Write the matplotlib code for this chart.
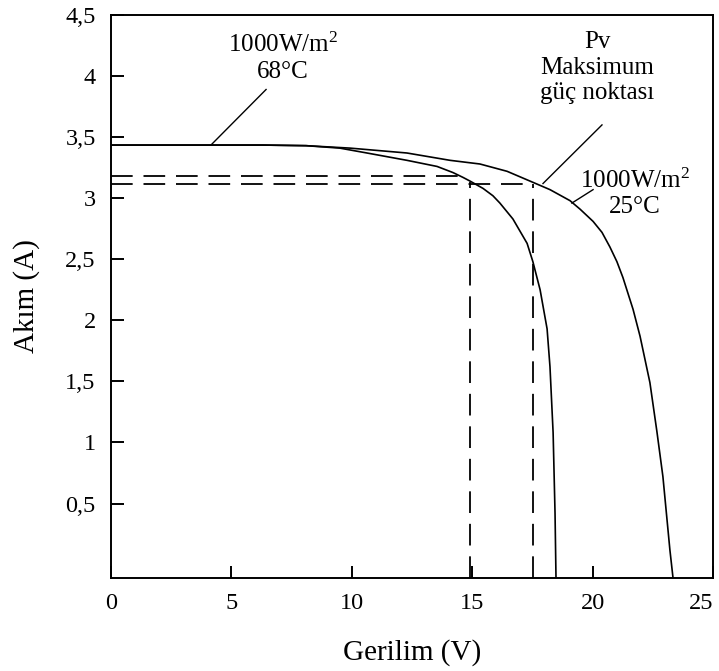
import matplotlib.pyplot as plt

plt.rcParams['font.family'] = ['Liberation Serif', 'DejaVu Serif']
plt.rcParams['mathtext.fontset'] = 'custom'
plt.rcParams['mathtext.rm'] = 'Liberation Serif'
plt.rcParams['mathtext.it'] = 'Liberation Serif:italic'

# I-V egrisi, 1000 W/m2, 25 C
v_25 = [0, 6.3, 8.1, 9.93, 12.29, 14.08, 15.32, 16.45, 17.52, 18.23, 19.06,
        19.48, 20.02, 20.39, 20.72, 21.01, 21.26, 21.68, 21.97, 22.38, 22.67,
        22.92, 23.21, 23.34]
i_25 = [3.435, 3.435, 3.43, 3.41, 3.37, 3.31, 3.28, 3.22, 3.13, 3.07, 2.98,
        2.91, 2.81, 2.72, 2.60, 2.48, 2.35, 2.09, 1.87, 1.49, 1.09,
        0.72, 0.12, -0.11]

# I-V egrisi, 1000 W/m2, 68 C
v_68 = [0, 6.3, 8.1, 9.5, 10.63, 12.29, 13.54, 14.20, 14.62, 14.91, 15.45,
        15.86, 16.15, 16.69, 17.28, 17.52, 17.82, 18.11, 18.23, 18.36, 18.44,
        18.48]
i_68 = [3.435, 3.435, 3.43, 3.41, 3.37, 3.31, 3.26, 3.21, 3.17, 3.14, 3.08,
        3.02, 2.96, 2.83, 2.63, 2.48, 2.25, 1.93, 1.62, 1.08, 0.42,
        -0.11]

# maksimum guc noktalari (kesikli cizgiler)
mpp_v = [14.91, 17.52]
mpp_i = [3.13, 3.12]
mpp_h_i = [3.18, 3.12]
mpp_h_v = [14.45, 17.52]

x_ticks = [0, 5, 10, 15, 20, 25]
y_ticks = [0.5, 1, 1.5, 2, 2.5, 3, 3.5, 4, 4.5]
y_labels = ['0,5', '1', '1,5', '2', '2,5', '3', '3,5', '4', '4,5']

fig = plt.figure(figsize=(7.19, 6.71), dpi=100)
ax = fig.add_axes([111 / 719, 1 - 578 / 671, 602 / 719, 563 / 671])

ax.plot(v_25, i_25, color='black', lw=1.2)
ax.plot(v_68, i_68, color='black', lw=1.2)

for v, i in zip(mpp_v, mpp_i):
    ax.plot([v, v], [-0.11, i], color='black', lw=1.3, dashes=(12, 6))
for v, i in zip(mpp_h_v, mpp_h_i):
    ax.plot([0, v], [i, i], color='black', lw=1.3, dashes=(12, 6))

# etiketler ve isaret cizgileri
ax.text(7.14, 4.15, '1000W/m$^{\\mathrm{2}}$\n68°C', ha='center', va='center',
        fontsize=18, linespacing=1.2)
ax.plot([6.44, 4.15], [3.89, 3.435], color='black', lw=1)

ax.text(20.2, 4.07, 'Pv\nMaksimum\ngüç noktası', ha='center', va='center',
        fontsize=18, linespacing=1.2)
ax.plot([20.39, 17.94], [3.60, 3.12], color='black', lw=1)

ax.text(21.76, 3.04, '1000W/m$^{\\mathrm{2}}$\n25°C', ha='center', va='center',
        fontsize=18, linespacing=1.2)
ax.plot([20.02, 19.14], [3.07, 2.96], color='black', lw=1)

ax.set_xlim(0, 25)
ax.set_ylim(-0.11, 4.5)
ax.set_xticks(x_ticks)
ax.set_xticklabels([str(t) for t in x_ticks])
ax.get_xticklabels()[-1].set_horizontalalignment('right')
ax.set_yticks(y_ticks)
ax.set_yticklabels(y_labels)
ax.tick_params(direction='in', length=9, width=1.4, labelsize=17.5)
ax.tick_params(axis='x', pad=11)
ax.tick_params(axis='y', pad=11)
for s in ax.spines.values():
    s.set_linewidth(1.4)

ax.set_xlabel('Gerilim (V)', fontsize=21, labelpad=18)
ax.set_ylabel('Akım (A)', fontsize=21, labelpad=18)

fig.savefig('out.png', dpi=100)
